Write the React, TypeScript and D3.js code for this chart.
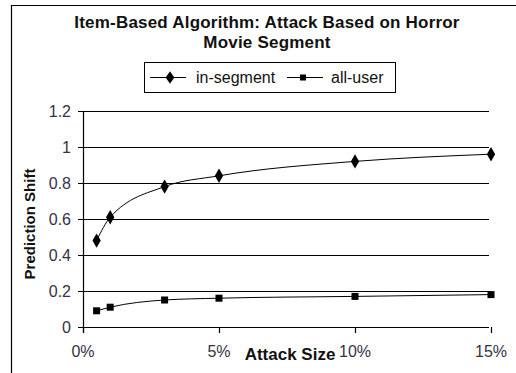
import React from "react";
import * as d3 from "d3";

const attackSizes = [0.5, 1, 3, 5, 10, 15];
const inSegment = [0.48, 0.61, 0.78, 0.84, 0.92, 0.96];
const allUser = [0.09, 0.11, 0.15, 0.16, 0.17, 0.18];
const yTicks = [0, 0.2, 0.4, 0.6, 0.8, 1, 1.2];
const xTicks = [0, 5, 10, 15];
const titleLines = ["Item-Based Algorithm: Attack Based on Horror", "Movie Segment"];

export default function App() {
  const x = d3.scaleLinear().domain([0, 15]).range([83, 491]);
  const y = d3.scaleLinear().domain([0, 1.2]).range([327, 111]);
  const line = d3
    .line<number>()
    .x((_, i) => x(attackSizes[i]))
    .y((d) => y(d))
    .curve(d3.curveMonotoneX);
  const font = "Arial, 'Liberation Sans', sans-serif";
  const diamond = d3.symbol(d3.symbolDiamond, 60)();
  const legendDiamond = d3.symbol(d3.symbolDiamond, 45)();
  return (
    <svg width={516} height={373} style={{ position: "absolute", left: 0, top: 0, background: "#fff" }}
      fontFamily={font}>
      <rect x={0} y={0} width={516} height={373} fill="#fff" />
      <path d="M11.5,373 V5.5 H516" fill="none" stroke="#000" strokeWidth={1.2} />
      {titleLines.map((t, i) => (
        <text key={i} x={267} y={28 + i * 20} textAnchor="middle" fontSize={17} fontWeight="bold" fill="#111"
          letterSpacing={0.2}>
          {t}
        </text>
      ))}
      <rect x={144.5} y={62.5} width={251} height={30} fill="#fff" stroke="#000" />
      <line x1={150} x2={186} y1={77.5} y2={77.5} stroke="#000" strokeWidth={1.2} />
      <path d={legendDiamond} transform="translate(170,77.5) scale(1.2,1)" fill="#000" />
      <text x={196} y={83} fontSize={16} fill="#111">in-segment</text>
      <line x1={287} x2={323} y1={77.5} y2={77.5} stroke="#000" strokeWidth={1.2} />
      <rect x={300} y={74.5} width={6} height={6} fill="#000" />
      <text x={331} y={83} fontSize={16} fill="#111">all-user</text>
      {yTicks.map((t) => (
        <g key={t}>
          <line x1={78} x2={489} y1={Math.round(y(t)) + 0.5} y2={Math.round(y(t)) + 0.5}
            stroke="#000" strokeWidth={1.2} />
          <text x={71} y={y(t) + 6} textAnchor="end" fontSize={16} fill="#334">
            {t}
          </text>
        </g>
      ))}
      <line x1={83.5} x2={83.5} y1={111} y2={333} stroke="#000" strokeWidth={1.2} />
      {xTicks.map((t) => (
        <g key={t}>
          <line x1={Math.round(x(t)) + 0.5} x2={Math.round(x(t)) + 0.5} y1={327} y2={333} stroke="#000" strokeWidth={1.2} />
          <text x={x(t)} y={357} textAnchor="middle" fontSize={16} fill="#334">
            {t}%
          </text>
        </g>
      ))}
      <text x={290} y={360} textAnchor="middle" fontSize={17} fontWeight="bold" fill="#111">Attack Size</text>
      <text transform="translate(35,224) rotate(-90)" textAnchor="middle" fontSize={15} fontWeight="bold" fill="#111">
        Prediction Shift
      </text>
      <path d={line(inSegment) || ""} fill="none" stroke="#000" strokeWidth={1} />
      <path d={line(allUser) || ""} fill="none" stroke="#000" strokeWidth={1} />
      {inSegment.map((v, i) => (
        <path key={i} d={diamond} transform={`translate(${x(attackSizes[i])},${y(v)})`} fill="#000" />
      ))}
      {allUser.map((v, i) => (
        <rect key={i} x={x(attackSizes[i]) - 3.5} y={y(v) - 3.5} width={7} height={7} fill="#000" />
      ))}
    </svg>
  );
}
